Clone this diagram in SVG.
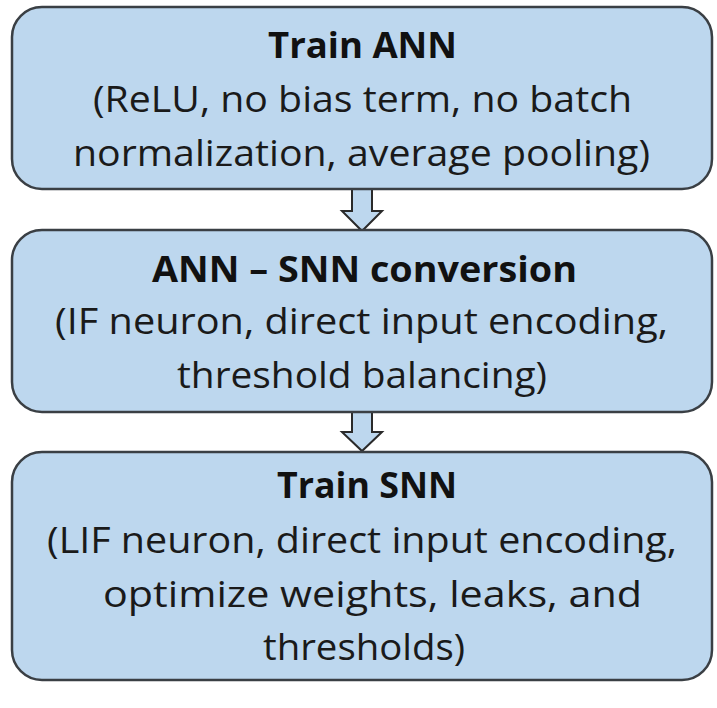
<svg xmlns="http://www.w3.org/2000/svg" width="717" height="708" viewBox="0 0 717 708">
<style>
.box{fill:#BDD7EE;stroke:#3a3f44;stroke-width:2.5}
.arr{fill:#BDD7EE;stroke:#2a2a2a;stroke-width:2;stroke-linejoin:miter}
text{font-family:"Open Sans",Lato,sans-serif;font-size:36px;fill:#1a1a1a;text-anchor:middle}
.t{font-weight:bold;fill:#111}
</style>
<rect width="717" height="708" fill="#ffffff"/>
<g id="connectors">
<path class="arr" d="M352,189 L372,189 L372,211 L382,211 L362,231 L342,211 L352,211 Z"/>
<path class="arr" d="M352,412 L372,412 L372,432 L382,432 L362,451 L342,432 L352,432 Z"/>
</g>
<g id="train-ann">
<rect class="box" x="12" y="7" width="700" height="182" rx="30"/>
<text class="t" x="362.5" y="58" textLength="189" lengthAdjust="spacingAndGlyphs">Train ANN</text>
<text x="362.5" y="112" textLength="539" lengthAdjust="spacingAndGlyphs">(ReLU, no bias term, no batch</text>
<text x="361.5" y="166" textLength="577" lengthAdjust="spacingAndGlyphs">normalization, average pooling)</text>
</g>
<g id="conversion">
<rect class="box" x="12" y="230" width="700" height="182" rx="30"/>
<text class="t" x="364.5" y="282" textLength="425" lengthAdjust="spacingAndGlyphs">ANN – SNN conversion</text>
<text x="361.5" y="334" textLength="613" lengthAdjust="spacingAndGlyphs">(IF neuron, direct input encoding,</text>
<text x="362" y="388" textLength="370" lengthAdjust="spacingAndGlyphs">threshold balancing)</text>
</g>
<g id="train-snn">
<rect class="box" x="12" y="452" width="700" height="228" rx="30"/>
<text class="t" x="367" y="498" textLength="180" lengthAdjust="spacingAndGlyphs">Train SNN</text>
<text x="362" y="553" textLength="630" lengthAdjust="spacingAndGlyphs">(LIF neuron, direct input encoding,</text>
<text x="372.5" y="607" textLength="539" lengthAdjust="spacingAndGlyphs">optimize weights, leaks, and</text>
<text x="364" y="660" textLength="202" lengthAdjust="spacingAndGlyphs">thresholds)</text>
</g>
</svg>
